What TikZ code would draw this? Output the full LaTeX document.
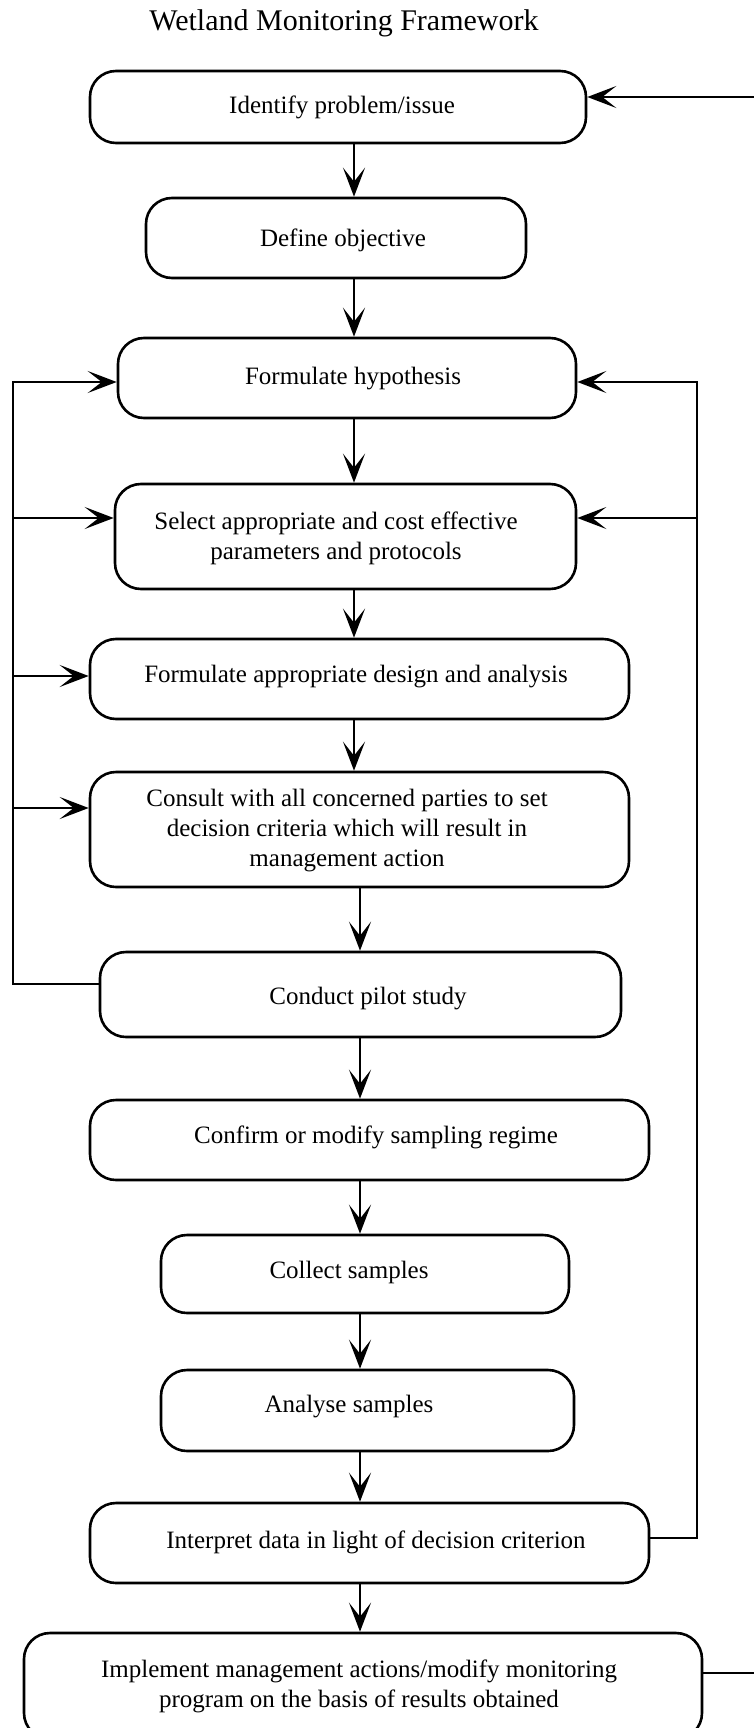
\documentclass[tikz,border=0pt]{standalone}
\usepackage{fontspec}
\setmainfont{Liberation Serif}
\usetikzlibrary{arrows.meta}
\begin{document}
\begin{tikzpicture}[x=1pt,y=-1pt,
  box/.style n args={2}{draw, line width=2.6pt, rounded corners=26pt,
    minimum width=#1pt, minimum height=#2pt, inner sep=0pt},
  txt/.style={font=\fontsize{25}{30}\selectfont, align=center, inner sep=0pt},
  conn/.style={line width=2.8pt},
  arr/.style={conn, -{Stealth[length=29pt,width=22pt,inset=14pt]}}]
\useasboundingbox (0,0) rectangle (754,1728);
\clip (0,0) rectangle (754,1728);

\node[font=\fontsize{30}{36}\selectfont, inner sep=0pt] (title) at (344,23) {Wetland Monitoring Framework};

\node[box={496}{72}]  (b1)  at (338,107)   {};
\node[box={380}{80}]  (b2)  at (336,238)   {};
\node[box={458}{80}]  (b3)  at (347,378)   {};
\node[box={461}{105}] (b4)  at (345.5,536.5) {};
\node[box={539}{80}]  (b5)  at (359.5,679) {};
\node[box={539}{115}] (b6)  at (359.5,829.5) {};
\node[box={521}{85}]  (b7)  at (360.5,994.5) {};
\node[box={559}{80}]  (b8)  at (369.5,1140) {};
\node[box={408}{78}]  (b9)  at (365,1274)  {};
\node[box={413}{81}]  (b10) at (367.5,1410.5) {};
\node[box={559}{80}]  (b11) at (369.5,1543) {};
\node[box={678}{106}] (b12) at (363,1686)  {};

\node[txt] (t1)  at (342,107)  {Identify problem/issue};
\node[txt] (t2)  at (343,240)  {Define objective};
\node[txt] (t3)  at (353,379)  {Formulate hypothesis};
\node[txt] (t4)  at (336,538)  {Select appropriate and cost effective\\parameters and protocols};
\node[txt] (t5)  at (356,677)  {Formulate appropriate design and analysis};
\node[txt] (t6)  at (347,831)  {Consult with all concerned parties to set\\decision criteria which will result in\\management action};
\node[txt] (t7)  at (368,999)  {Conduct pilot study};
\node[txt] (t8)  at (376,1137) {Confirm or modify sampling regime};
\node[txt] (t9)  at (349,1272) {Collect samples};
\node[txt] (t10) at (349,1407) {Analyse samples};
\node[txt] (t11) at (376,1542) {Interpret data in light of decision criterion};
\node[txt] (t12) at (359,1686) {Implement management actions/modify monitoring\\program on the basis of results obtained};

\coordinate (cA) at (354,0);
\coordinate (cB) at (360,0);
\draw[arr] (b1.south -| cA) -- (b2.north -| cA);
\draw[arr] (b2.south -| cA) -- (b3.north -| cA);
\draw[arr] (b3.south -| cA) -- (b4.north -| cA);
\draw[arr] (b4.south -| cA) -- (b5.north -| cA);
\draw[arr] (b5.south -| cA) -- (b6.north -| cA);
\draw[arr] (b6.south -| cB) -- (b7.north -| cB);
\draw[arr] (b7.south -| cB) -- (b8.north -| cB);
\draw[arr] (b8.south -| cB) -- (b9.north -| cB);
\draw[arr] (b9.south -| cB) -- (b10.north -| cB);
\draw[arr] (b10.south -| cB) -- (b11.north -| cB);
\draw[arr] (b11.south -| cB) -- (b12.north -| cB);

% left feedback loop
\coordinate (Lbot) at (13,984);
\coordinate (Ltop) at (13,382);
\coordinate (L4) at (13,518);
\coordinate (L5) at (13,676);
\coordinate (L6) at (13,808);
\draw[arr] (b7.west |- Lbot) -- (Lbot) -- (Ltop) -- (b3.west |- Ltop);
\draw[arr] (L4) -- (b4.west |- L4);
\draw[arr] (L5) -- (b5.west |- L5);
\draw[arr] (L6) -- (b6.west |- L6);

% right feedback loop
\coordinate (Rbot) at (697,1538);
\coordinate (Rtop) at (697,382);
\coordinate (R4) at (697,518);
\draw[arr] (b11.east |- Rbot) -- (Rbot) -- (Rtop) -- (b3.east |- Rtop);
\draw[arr] (R4) -- (b4.east |- R4);

% outer loop (off the edge)
\coordinate (Tin) at (780,97);
\coordinate (Bout) at (780,1673);
\draw[arr] (Tin) -- (b1.east |- Tin);
\draw[conn] (b12.east |- Bout) -- (Bout);
\end{tikzpicture}
\end{document}
